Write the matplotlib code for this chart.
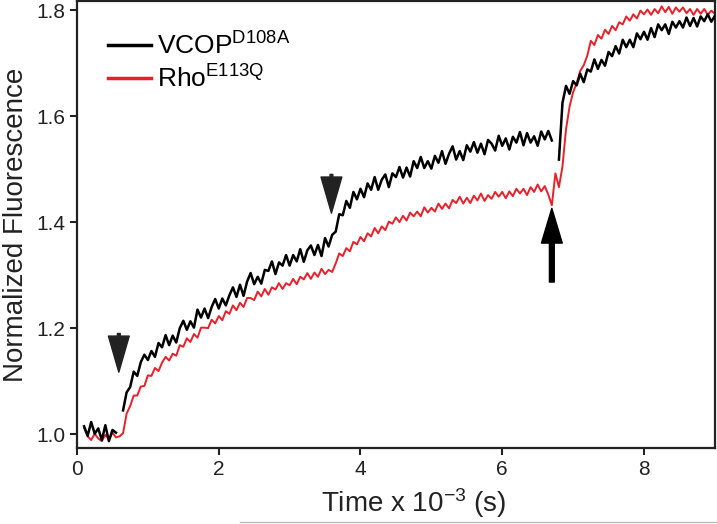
import matplotlib
matplotlib.use("Agg")
import matplotlib.pyplot as plt
import numpy as np
from matplotlib.lines import Line2D

plt.rcParams['font.family'] = ['Liberation Sans', 'DejaVu Sans']
plt.rcParams['mathtext.fontset'] = 'custom'
plt.rcParams['mathtext.rm'] = 'Liberation Sans'
plt.rcParams['mathtext.it'] = 'Liberation Sans:italic'
plt.rcParams['mathtext.bf'] = 'Liberation Sans:bold'

# sampling times (x 10^-3 s), 0.10 ... 9.00
time = np.round(np.arange(0.10, 9.0001, 0.05), 2)

# VCOP D108A trace (nan = break in trace)
vcop = [
    1.015, 0.997, 1.023, 1.001, 1.011, 0.989, 1.017, 0.987, 1.008, 1.003,
    np.nan, 1.045, 1.079, 1.089, 1.118, 1.110, 1.136, 1.150, 1.140, 1.157,
    1.146, 1.172, 1.164, 1.187, 1.168, 1.186, 1.173, 1.200, 1.214, 1.197,
    1.213, 1.201, 1.235, 1.220, 1.237, 1.219, 1.240, 1.255, 1.237, 1.256,
    1.243, 1.262, 1.277, 1.259, 1.282, 1.261, 1.288, 1.304, 1.283, 1.297,
    1.284, 1.310, 1.308, 1.326, 1.302, 1.324, 1.318, 1.338, 1.318, 1.338,
    1.326, 1.349, 1.325, 1.347, 1.356, 1.338, 1.357, 1.336, 1.370, 1.354,
    1.376, 1.382, 1.415, 1.413, 1.440, 1.427, 1.457, 1.443, 1.463, 1.447,
    1.473, 1.461, 1.485, 1.461, 1.480, 1.490, 1.466, 1.492, 1.485, 1.504,
    1.484, 1.503, 1.486, 1.515, 1.502, 1.523, 1.502, 1.515, 1.501, 1.525,
    1.512, 1.534, 1.510, 1.529, 1.543, 1.518, 1.534, 1.517, 1.545, 1.533,
    1.551, 1.531, 1.548, 1.528, 1.555, 1.548, 1.535, 1.563, 1.544, 1.558,
    1.537, 1.561, 1.550, 1.570, 1.545, 1.568, 1.550, 1.562, 1.544, 1.571,
    1.556, 1.572, 1.554, np.nan, 1.518, 1.625, 1.657, 1.642, 1.666, 1.658,
    1.680, 1.664, 1.688, 1.684, 1.707, 1.689, 1.706, 1.695, 1.721, 1.713,
    1.732, 1.718, 1.744, 1.730, 1.744, 1.730, 1.756, 1.745, 1.759, 1.744,
    1.766, 1.749, 1.773, 1.762, 1.773, 1.755, 1.778, 1.767, 1.779, 1.767,
    1.786, 1.770, 1.785, 1.769, 1.788, 1.779, 1.792, 1.778, 1.789,
]

# Rho E113Q trace
rho = [
    1.012, 0.996, 0.989, 1.001, 0.992, 0.987, 0.999, 0.990, 1.003, 0.994,
    0.996, 1.002, 1.039, 1.053, 1.073, 1.073, 1.090, 1.091, 1.111, 1.110,
    1.125, 1.119, 1.135, 1.146, 1.139, 1.152, 1.148, 1.168, 1.165, 1.181,
    1.174, 1.189, 1.182, 1.201, 1.201, 1.200, 1.216, 1.209, 1.223, 1.215,
    1.232, 1.227, 1.243, 1.234, 1.248, 1.240, 1.257, 1.257, 1.253, 1.269,
    1.260, 1.274, 1.263, 1.277, 1.273, 1.285, 1.274, 1.285, 1.281, 1.293,
    1.283, 1.297, 1.292, 1.304, 1.293, 1.305, 1.297, 1.312, 1.302, 1.310,
    1.306, 1.322, 1.341, 1.336, 1.351, 1.345, 1.363, 1.358, 1.372, 1.364,
    1.379, 1.373, 1.389, 1.379, 1.392, 1.385, 1.401, 1.397, 1.409, 1.400,
    1.412, 1.403, 1.418, 1.411, 1.420, 1.411, 1.428, 1.418, 1.427, 1.420,
    1.435, 1.425, 1.435, 1.426, 1.442, 1.436, 1.448, 1.435, 1.446, 1.436,
    1.450, 1.441, 1.454, 1.440, 1.451, 1.444, 1.457, 1.448, 1.457, 1.445,
    1.458, 1.449, 1.463, 1.454, 1.463, 1.451, 1.466, 1.457, 1.471, 1.458,
    1.468, 1.452, 1.432, 1.492, 1.466, 1.505, 1.575, 1.618, 1.645, 1.662,
    1.685, 1.696, 1.714, 1.742, 1.734, 1.753, 1.746, 1.763, 1.755, 1.770,
    1.762, 1.777, 1.773, 1.788, 1.780, 1.792, 1.784, 1.799, 1.792, 1.801,
    1.791, 1.802, 1.794, 1.807, 1.796, 1.806, 1.793, 1.805, 1.797, 1.805,
    1.794, 1.802, 1.791, 1.802, 1.793, 1.802, 1.791, 1.799, 1.793,
]

# additions: (time, tip value, base value)
down_marks = [(0.59, 1.117, 1.190), (3.59, 1.417, 1.490)]
up_mark = (6.70, 1.426, 1.287)

fig = plt.figure(figsize=(7.17, 5.24), dpi=100)
ax = fig.add_axes([0.1074, 0.145, 0.8896, 0.853])

ax.plot(time, vcop, color='black', lw=1.8, label=r'VCOP$^{\mathrm{D108A}}$', zorder=3)
ax.plot(time, rho, color='#e8202a', lw=1.4, label=r'Rho$^{\mathrm{E113Q}}$', zorder=2)

for t, tip, base in down_marks:
    ax.annotate('', xy=(t, tip), xytext=(t, base),
                arrowprops=dict(facecolor='#222222', edgecolor='#222222',
                                width=2, headwidth=15, headlength=26, shrink=0))
ax.annotate('', xy=(up_mark[0], up_mark[1]), xytext=(up_mark[0], up_mark[2]),
            arrowprops=dict(facecolor='black', edgecolor='black',
                            width=3.5, headwidth=15, headlength=25, shrink=0))

ax.set_xlim(0, 9)
ax.set_ylim(0.974, 1.817)
ax.set_xticks([0, 2, 4, 6, 8])
ax.set_yticks([1.0, 1.2, 1.4, 1.6, 1.8])
ax.set_yticklabels(['1.0', '1.2', '1.4', '1.6', '1.8'])
ax.tick_params(direction='out', length=5, width=1.5, labelsize=15,
               colors='#222222', top=False, right=False)
for s in ax.spines.values():
    s.set_linewidth(1.6)
    s.set_color('#222222')

ax.set_xlabel(r'Time x 10$^{-3}$ (s)', fontsize=20, color='#222222', labelpad=9)
ax.xaxis.set_label_coords(0.528, -0.085, transform=ax.transAxes)
ax.xaxis.label.set_va('top')
ax.set_ylabel('Normalized Fluorescence', fontsize=20, color='#222222', labelpad=5)

leg = ax.legend(loc='upper left', bbox_to_anchor=(0.012, 0.983), frameon=False,
                fontsize=19, handlelength=1.6, handletextpad=0.25, labelspacing=0.22)
for h in leg.get_lines():
    h.set_linewidth(2.5)

# thin grey rule under the x label, as in the source figure
fig.add_artist(Line2D([0.335, 1.0], [0.004, 0.004], color='#bbbbbb', lw=1))

plt.savefig('out.png', dpi=100)
